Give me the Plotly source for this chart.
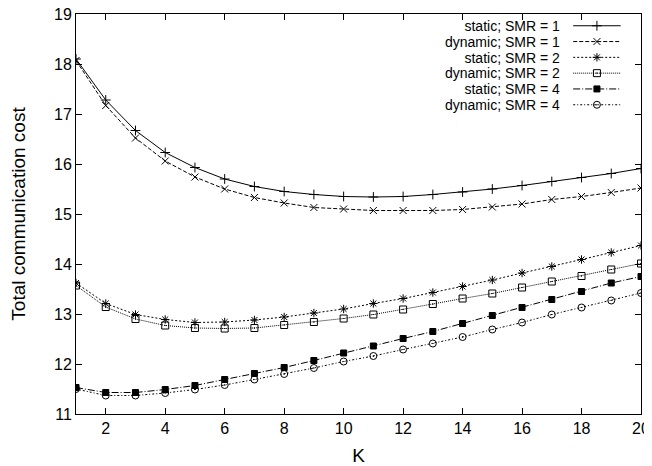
import plotly.graph_objects as go

K = list(range(1, 21))

static_smr1 = [18.10, 17.28, 16.67, 16.23, 15.93, 15.70, 15.55, 15.45, 15.39, 15.35,
               15.34, 15.35, 15.39, 15.44, 15.50, 15.57, 15.65, 15.73, 15.81, 15.91]
dynamic_smr1 = [18.07, 17.17, 16.52, 16.06, 15.74, 15.50, 15.33, 15.22, 15.13, 15.10,
                15.07, 15.07, 15.07, 15.09, 15.14, 15.20, 15.29, 15.35, 15.43, 15.52]
static_smr2 = [13.62, 13.21, 12.99, 12.89, 12.83, 12.84, 12.88, 12.94, 13.02, 13.10,
               13.21, 13.31, 13.43, 13.55, 13.68, 13.82, 13.95, 14.09, 14.23, 14.37]
dynamic_smr2 = [13.57, 13.14, 12.90, 12.77, 12.72, 12.71, 12.72, 12.78, 12.84, 12.91,
                12.99, 13.09, 13.20, 13.31, 13.41, 13.53, 13.65, 13.76, 13.89, 14.01]
static_smr4 = [11.53, 11.43, 11.43, 11.49, 11.57, 11.69, 11.81, 11.93, 12.07, 12.22,
               12.36, 12.51, 12.65, 12.81, 12.97, 13.13, 13.29, 13.45, 13.62, 13.75]
dynamic_smr4 = [11.50, 11.37, 11.37, 11.42, 11.49, 11.58, 11.69, 11.80, 11.92, 12.05,
                12.16, 12.29, 12.41, 12.54, 12.69, 12.83, 12.99, 13.13, 13.27, 13.42]

series_names = ["static; SMR = 1", "dynamic; SMR = 1", "static; SMR = 2",
                "dynamic; SMR = 2", "static; SMR = 4", "dynamic; SMR = 4"]
series_values = [static_smr1, dynamic_smr1, static_smr2, dynamic_smr2, static_smr4, dynamic_smr4]
x_ticks = [2, 4, 6, 8, 10, 12, 14, 16, 18, 20]
y_ticks = [11, 12, 13, 14, 15, 16, 17, 18, 19]

dashes = ["solid", "4px,2px", "2px,2px", "1px,1px", "7px,2px,1px,2px", "2px,2px,1px,2px"]
symbols = ["cross-thin-open", "x-thin-open", "asterisk-open", "square-open-dot",
           "square", "circle-open-dot"]
sizes = [7, 7, 7, 7, 6, 7]

FONT = "Liberation Sans, Arial, sans-serif"
fig = go.Figure()

for name, vals, d, s, sz in zip(series_names, series_values, dashes, symbols, sizes):
    fig.add_trace(go.Scatter(
        x=K, y=vals, mode="lines+markers", name=name, showlegend=False,
        line=dict(color="black", width=1, dash=d),
        marker=dict(symbol=s, size=sz, color="black", line=dict(color="black", width=1)),
        hoverinfo="skip"))

# manual gnuplot-style key (text left, sample right); positions relative to plot area
row_dy = 15.8
row_mid = 51.25          # px below plot top
row_y0 = row_mid - 2.5 * row_dy
plot_h = 400
for i, (name, d, s, sz) in enumerate(zip(series_names, dashes, symbols, sizes)):
    py = row_y0 + i * row_dy
    yy = 1 - py / plot_h
    fig.add_trace(go.Scatter(
        x=[0.880, 0.964], y=[yy, yy], mode="lines", xaxis="x2", yaxis="y2",
        line=dict(color="black", width=1, dash=d), showlegend=False, hoverinfo="skip"))
    fig.add_trace(go.Scatter(
        x=[0.922], y=[yy], mode="markers", xaxis="x2", yaxis="y2",
        marker=dict(symbol=s, size=sz, color="black", line=dict(color="black", width=1)),
        showlegend=False, hoverinfo="skip"))

key_text = "<br>".join('<span style="font-size:14px">%s</span>' % n for n in series_names)
y_mid = 1 - row_mid / plot_h
fig.add_annotation(x=0.861, y=y_mid, xref="paper", yref="paper", text=key_text,
                   showarrow=False, xanchor="right", yanchor="middle", align="right",
                   font=dict(family=FONT, size=row_dy / 1.3, color="black"))

fig.update_layout(
    width=644, height=458,
    margin=dict(l=68, r=11, t=6, b=52),
    paper_bgcolor="white", plot_bgcolor="white",
    font=dict(family=FONT, size=16, color="black"),
    xaxis=dict(range=[1, 20], tickvals=x_ticks, ticks="inside", ticklen=6,
               showline=True, linecolor="black", linewidth=1, mirror="ticks",
               showgrid=False, zeroline=False, tickcolor="black", automargin=False,
               ticklabeloverflow="allow",
               title=dict(text="K", standoff=15)),
    yaxis=dict(range=[11, 19], tickvals=y_ticks, ticks="inside", ticklen=6,
               showline=True, linecolor="black", linewidth=1, mirror="ticks",
               showgrid=False, zeroline=False, tickcolor="black", automargin=False,
               ticklabeloverflow="allow",
               title=dict(text="Total communication cost", standoff=28)),
    xaxis2=dict(range=[0, 1], overlaying="x", visible=False),
    yaxis2=dict(range=[0, 1], overlaying="y", visible=False),
)

fig.write_html("out.html")
